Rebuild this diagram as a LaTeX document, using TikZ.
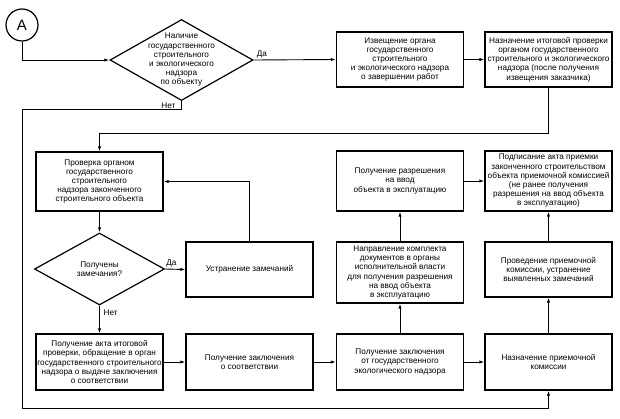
\documentclass[tikz,border=0pt]{standalone}
\usepackage{fontspec}
\setmainfont{Liberation Sans}
\usetikzlibrary{shapes.geometric,arrows.meta}
\tikzstyle{mybox} = [draw=black, line width=1.2pt, rectangle, align=center, inner sep=0pt, minimum width=127pt, font=\fontsize{8.2}{9.2}\selectfont]
\tikzstyle{mydecision} = [draw=black, line width=1.2pt, diamond, inner sep=0pt]
\tikzstyle{mytext} = [align=center, inner sep=0pt, font=\fontsize{8.2}{9.2}\selectfont]
\tikzstyle{mylabel} = [inner sep=1pt, font=\fontsize{8.2}{9.2}\selectfont]
\tikzstyle{myarrow} = [line width=0.9pt, -{Latex[length=5pt,width=3.2pt]}]

\begin{document}
\begin{tikzpicture}[x=1pt,y=-1pt]
\useasboundingbox (0,0) rectangle (620,418);

\node [draw=black, line width=1.2pt, circle, minimum size=32pt, inner sep=0pt, font=\fontsize{15}{15}\selectfont] (start) at (22,25) {A};

% decisions
\node [mydecision, minimum width=143pt, minimum height=81pt] (nadzor) at (181.5,60) {};
\node [mytext] at (nadzor) {Наличие\\государственного\\строительного\\и экологического\\надзора\\по объекту};
\node [mydecision, minimum width=130pt, minimum height=72pt] (zamech) at (99.5,269) {};
\node [mytext] at (zamech) {Получены\\замечания?};

% boxes
\node [mybox, minimum height=55pt] (izv) at (400,59.5) {Извещение органа\\государственного\\строительного\\и экологического надзора\\о завершении работ};
\node [mybox, minimum height=55pt] (naznit) at (548.5,59.5) {Назначение итоговой проверки\\органом государственного\\строительного и экологического\\надзора (после получения\\извещения заказчика)};
\node [mybox, minimum height=59pt] (prov) at (99.5,181.5) {Проверка органом\\государственного\\строительного\\надзора законченного\\строительного объекта};
\node [mybox, minimum height=55pt] (ustr) at (249.5,269.5) {Устранение замечаний};
\node [mybox, minimum height=56pt] (akt) at (99.5,362) {Получение акта итоговой\\проверки, обращение в орган\\государственного строительного\\надзора о выдаче заключения\\о соответствии};
\node [mybox, minimum height=56pt] (zaksoot) at (249.5,362) {Получение заключения\\о соответствии};
\node [mybox, minimum height=56pt] (zakeko) at (400,362) {Получение заключения\\от государственного\\экологического надзора};
\node [mybox, minimum height=56pt] (naznpr) at (548.5,362) {Назначение приемочной\\комиссии};
\node [mybox, minimum height=61pt] (napr) at (400,272.5) {Направление комплекта\\документов в органы\\исполнительной власти\\для получения разрешения\\на ввод объекта\\в эксплуатацию};
\node [mybox, minimum height=60pt] (razr) at (400,181) {Получение разрешения\\на ввод\\объекта в эксплуатацию};
\node [mybox, minimum height=60pt] (podp) at (548.5,181) {Подписание акта приемки\\законченного строительством\\объекта приемочной комиссией\\(не ранее получения\\разрешения на ввод объекта\\в эксплуатацию)};
\node [mybox, minimum height=55pt] (provd) at (548.5,269.5) {Проведение приемочной\\комиссии, устранение\\выявленных замечаний};

\coordinate (netcorner) at (22,408);

% connectors
\draw [myarrow] (start.south) |- (nadzor.west);
\draw [myarrow] (nadzor.east) -- (izv.west);
\node [mylabel, anchor=south west] at ([xshift=2pt,yshift=1pt]nadzor.east) {Да};
\draw [myarrow] (izv.east) -- (naznit.west);
\draw [myarrow] (naznit.south) -- ++(0,46) -| (prov.north);
\draw [myarrow] (nadzor.south) -- ++(0,8) -| (netcorner) -| (naznpr.south);
\node [mylabel, anchor=north east] at ([xshift=-5pt,yshift=-1pt]nadzor.south) {Нет};
\draw [myarrow] (prov.south) -- (zamech.north);
\draw [myarrow] (zamech.east) -- (ustr.west);
\node [mylabel, anchor=south west] at ([xshift=0pt,yshift=1pt]zamech.east) {Да};
\draw [myarrow] (ustr.north) |- (prov.east);
\draw [myarrow] (zamech.south) -- (akt.north);
\node [mylabel, anchor=north west] at ([xshift=3pt,yshift=-3pt]zamech.south) {Нет};
\draw [myarrow] (akt.east) -- (zaksoot.west);
\draw [myarrow] (zaksoot.east) -- (zakeko.west);
\draw [myarrow] (zakeko.east) -- (naznpr.west);
\draw [myarrow] (zakeko.north) -- (napr.south);
\draw [myarrow] (napr.north) -- (razr.south);
\draw [myarrow] (razr.east) -- (podp.west);
\draw [myarrow] (naznpr.north) -- (provd.south);
\draw [myarrow] (provd.north) -- (podp.south);
\end{tikzpicture}
\end{document}
